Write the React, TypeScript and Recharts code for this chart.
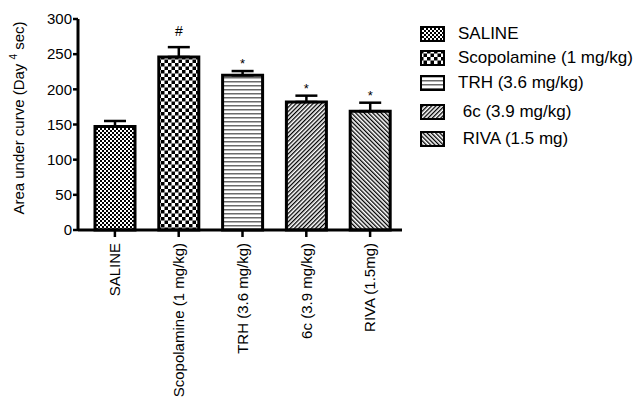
import React from 'react';
import { BarChart, Bar, XAxis, YAxis, ErrorBar, Cell, LabelList } from 'recharts';

// Treatment groups and their area-under-curve results (mean ± SEM)
const groups = ['SALINE', 'Scopolamine (1 mg/kg)', 'TRH (3.6 mg/kg)', '6c (3.9 mg/kg)', 'RIVA (1.5mg)'];
const legendNames = ['SALINE', 'Scopolamine (1 mg/kg)', 'TRH (3.6 mg/kg)', ' 6c (3.9 mg/kg)', ' RIVA (1.5 mg)'];
const meanAuc = [147, 246, 220, 182, 169];
const semAuc = [8, 14, 6, 9, 12];
const significance = ['', '#', '*', '*', '*'];
const yTicks = [0, 50, 100, 150, 200, 250, 300];

const patternIds = ['pat-saline', 'pat-scop', 'pat-trh', 'pat-6c', 'pat-riva'];
const legendRowCenters = [34, 58, 83, 112, 139];

const FONT = '"Liberation Sans", Arial, Helvetica, sans-serif';

const data = groups.map((name, i) => ({
  name,
  idx: i,
  mean: meanAuc[i],
  err: [0, semAuc[i]],
}));

const Patterns = () => (
  <defs>
    <pattern id="pat-saline" width={4} height={4} patternUnits="userSpaceOnUse">
      <rect width={4} height={4} fill="#fff" />
      <rect x={0} y={0} width={2} height={2} fill="#000" />
      <rect x={2} y={2} width={2} height={2} fill="#000" />
    </pattern>
    <pattern id="pat-scop" width={7} height={7} patternUnits="userSpaceOnUse">
      <rect width={7} height={7} fill="#fff" />
      <rect x={0} y={0} width={3.5} height={3.5} fill="#000" />
      <rect x={3.5} y={3.5} width={3.5} height={3.5} fill="#000" />
    </pattern>
    <pattern id="pat-trh" width={4} height={4} patternUnits="userSpaceOnUse">
      <rect width={4} height={4} fill="#fff" />
      <rect x={0} y={1} width={4} height={1.5} fill="#6a6a6a" />
    </pattern>
    <pattern id="pat-6c" width={3} height={3} patternUnits="userSpaceOnUse" patternTransform="rotate(45)">
      <rect width={3} height={3} fill="#fff" />
      <rect x={0} y={0} width={1.3} height={3} fill="#000" />
    </pattern>
    <pattern id="pat-riva" width={3} height={3} patternUnits="userSpaceOnUse" patternTransform="rotate(-45)">
      <rect width={3} height={3} fill="#fff" />
      <rect x={0} y={0} width={1.3} height={3} fill="#000" />
    </pattern>
  </defs>
);

const XTick = (props: any) => {
  const { x, y, payload } = props;
  return (
    <text
      x={x}
      y={y}
      transform={`rotate(-90, ${x}, ${y})`}
      textAnchor="end"
      dy="0.35em"
      fontSize={15}
      fontFamily={FONT}
      fill="#000"
    >
      {payload.value}
    </text>
  );
};

const YTitle = () => (
  <text
    x={24}
    y={118}
    transform="rotate(-90, 24, 118)"
    textAnchor="middle"
    fontSize={15}
    fontFamily={FONT}
    fill="#000"
  >
    {'Area under curve (Day '}
    <tspan fontSize={10} dy={-7}>4</tspan>
    <tspan dy={7}>{' sec)'}</tspan>
  </text>
);

// Significance marks sit just above each error bar cap
const MarkLabel = (props: any) => {
  const i = Number(props.value);
  const mark = significance[i];
  if (!mark) return null;
  const vb = props.viewBox && props.viewBox.width != null ? props.viewBox : props;
  const { x, y, width, height } = vb;
  const pxPerUnit = height / meanAuc[i];
  const capY = y - semAuc[i] * pxPerUnit;
  const isHash = mark === '#';
  return (
    <text
      x={x + width / 2}
      y={capY - (isHash ? 11 : 3)}
      textAnchor="middle"
      fontSize={isHash ? 14 : 13}
      fontFamily={FONT}
      fill="#000"
    >
      {mark}
    </text>
  );
};

export default function App() {
  return (
    <div
      style={{
        position: 'absolute',
        left: 0,
        top: 0,
        width: 637,
        height: 403,
        background: '#fff',
        fontFamily: FONT,
      }}
    >
      <BarChart
        width={637}
        height={403}
        data={data}
        margin={{ top: 19, right: 235, bottom: 23, left: 0 }}
        barSize={40}
      >
        <Patterns />
        <XAxis
          dataKey="name"
          height={150}
          interval={0}
          padding={{ left: 5, right: 0 }}
          axisLine={{ stroke: '#000', strokeWidth: 3 }}
          tickLine={{ stroke: '#000', strokeWidth: 2.5 }}
          tickSize={7}
          tickMargin={6}
          tick={<XTick />}
        />
        <YAxis
          width={78}
          domain={[0, 300]}
          ticks={yTicks}
          interval={0}
          axisLine={{ stroke: '#000', strokeWidth: 3 }}
          tickLine={{ stroke: '#000', strokeWidth: 2.5 }}
          tickSize={5}
          tickMargin={1}
          tick={{ fill: '#000', fontSize: 15, fontFamily: FONT }}
          label={{ content: <YTitle /> }}
        />
        <Bar dataKey="mean" stroke="#000" strokeWidth={3} isAnimationActive={false}>
          {data.map((d, i) => (
            <Cell key={d.name} fill={`url(#${patternIds[i]})`} />
          ))}
          <ErrorBar dataKey="err" direction="y" width={11} stroke="#000" strokeWidth={2.5} isAnimationActive={false} />
          <LabelList dataKey="idx" content={<MarkLabel />} />
        </Bar>
      </BarChart>

      {legendNames.map((name, i) => (
        <div
          key={name}
          style={{
            position: 'absolute',
            left: 420,
            top: legendRowCenters[i] - 12,
            height: 24,
            display: 'flex',
            alignItems: 'center',
            whiteSpace: 'pre',
            fontSize: 17,
            color: '#000',
          }}
        >
          <svg width={25} height={16} style={{ display: 'block' }}>
            <rect x={1} y={1} width={23} height={14} fill={`url(#${patternIds[i]})`} stroke="#000" strokeWidth={2} />
          </svg>
          <span style={{ marginLeft: 13 }}>{name}</span>
        </div>
      ))}
    </div>
  );
}
